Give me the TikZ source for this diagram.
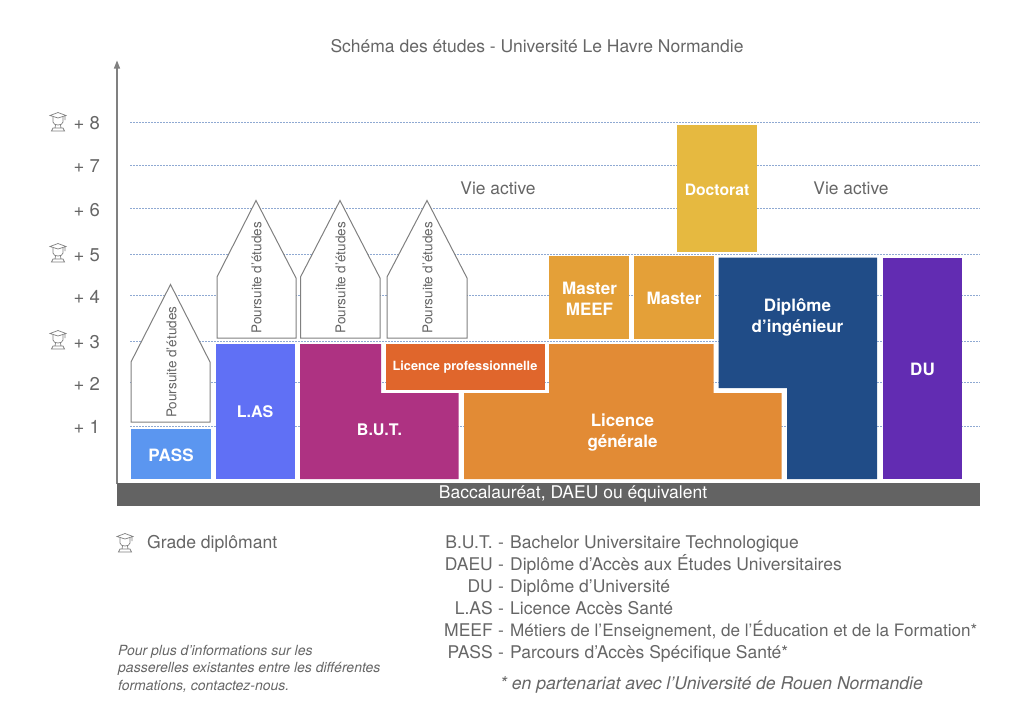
\documentclass[tikz,border=0pt]{standalone}
\usepackage{fontspec}
\setmainfont{TeX Gyre Heros}
\usetikzlibrary{arrows.meta}
\definecolor{txt}{HTML}{666666}
\definecolor{gridc}{HTML}{8FA9D2}
\definecolor{barc}{HTML}{636363}
\definecolor{edgec}{HTML}{808080}
\definecolor{cpass}{HTML}{5B96F0}
\definecolor{clas}{HTML}{6070F5}
\definecolor{cbut}{HTML}{AE3282}
\definecolor{clp}{HTML}{E0662C}
\definecolor{clg}{HTML}{E28B35}
\definecolor{cmas}{HTML}{E4A038}
\definecolor{cdoc}{HTML}{E6B940}
\definecolor{cing}{HTML}{204C87}
\definecolor{cdu}{HTML}{622CB2}
\tikzset{
  blabel/.style={text=white,font=\bfseries\fontsize{17}{21}\selectfont,align=center,inner sep=0},
  house/.style={draw=edgec,line width=1pt,fill=white},
  houselabel/.style={rotate=90,anchor=west,text=txt,font=\fontsize{13.5}{14}\selectfont,inner sep=0},
  gridline/.style={draw=gridc,line width=.7pt,dash pattern=on 1.6pt off 1.4pt},
  tick/.style={text=txt,font=\fontsize{18.5}{20}\selectfont,inner sep=0,anchor=east},
  gray/.style={text=txt,inner sep=0},
  abbr/.style={text=txt,font=\fontsize{17.5}{20}\selectfont,inner sep=0,anchor=base east},
  expl/.style={text=txt,font=\fontsize{17.5}{20}\selectfont,inner sep=0,anchor=base west},
  pics/grad/.style={code={
    \draw[draw=edgec,line width=.7pt,fill=white]
      (-8,-6.5) -- (0,-9.5) -- (8,-6.5) -- (0,-4) -- cycle;
    \draw[draw=edgec,line width=.7pt]
      (-5,-5) -- (-5,0) .. controls (-5,4) and (5,4) .. (5,0) -- (5,-5)
      (-2.5,3) -- (-3,6) (2.5,3) -- (3,6) (-6.5,9) -- (6.5,9) -- (5,6) -- (-5,6) -- cycle
      (7,-6.5) -- (7,-2);
  }}
}
\begin{document}
\begin{tikzpicture}[x=1pt,y=-1pt]
\useasboundingbox (0,0) rectangle (1024,724);
\fill[white] (0,0) rectangle (1024,724);
\node[gray,font=\fontsize{17.5}{20}\selectfont] (title) at (537,46.5) {Schéma des études - Université Le Havre Normandie};
% grid
\foreach \yy/\nm/\lab in {122/8/+ 8,165/7/+ 7,208.5/6/+ 6,254/5/+ 5,295.5/4/+ 4,341/3/+ 3,382.5/2/+ 2,426/1/+ 1}{
  \draw[gridline] (130,\yy) -- (980,\yy);
  \node[tick] (t\nm) at (100,\yy+1.2) {\lab};
}
\pic at (58,122) {grad};
\pic at (58,253) {grad};
\pic at (58,340) {grad};
% axis
\coordinate (axb) at (117,484);
\coordinate (axt) at (117,60.5);
\draw[draw=edgec,line width=1.2pt,-{Triangle[length=8pt,width=6pt]}] (axb) -- (axt);
% base bar
\fill[barc] (117,483) rectangle (980,505.5);
\node[text=white,font=\fontsize{17.5}{20}\selectfont,inner sep=0] (bac) at (573,494.5) {Baccalauréat, DAEU ou équivalent};
% blocks
\fill[cpass] (131,429) rectangle (210.5,479);
\fill[clas] (215.5,344) rectangle (295,479);
\fill[cbut] (300,344) -- (381,344) -- (381,393) -- (458.5,393) -- (458.5,479) -- (300,479) -- cycle;
\fill[clp] (385.5,344) rectangle (544.5,390);
\fill[clg] (549,344) -- (713.5,344) -- (713.5,393) -- (781.5,393) -- (781.5,479) -- (464,479) -- (464,393) -- (549,393) -- cycle;
\fill[cmas] (549,256) rectangle (629,339);
\fill[cmas] (634,256) rectangle (713.5,339);
\fill[cdoc] (677,124.5) rectangle (756.5,252);
\fill[cing] (718.5,257.5) -- (877,257.5) -- (877,479) -- (787,479) -- (787,388) -- (718.5,388) -- cycle;
\fill[cdu] (883,257.5) rectangle (962,479);
\node[blabel] (pass) at (171,455) {PASS};
\node[blabel,font=\bfseries\fontsize{16}{20}\selectfont] (las) at (255,412) {L.AS};
\node[blabel,font=\bfseries\fontsize{16}{20}\selectfont] (but) at (379.5,430) {B.U.T.};
\node[blabel,font=\bfseries\fontsize{12.7}{14}\selectfont] (lp) at (465,367.5) {Licence professionnelle};
\node[blabel] (lg) at (622.5,433) {Licence\\générale};
\node[blabel] (meef) at (589.5,298.5) {Master\\MEEF};
\node[blabel] (mas) at (674,298) {Master};
\node[blabel,font=\bfseries\fontsize{15.7}{18}\selectfont] (doc) at (717,189.5) {Doctorat};
\node[blabel] (ing) at (797.5,317.5) {Diplôme\\d’ingénieur};
\node[blabel] (du) at (922.5,369) {DU};
% houses
\draw[house] (131,422) -- (131,362) -- (170.5,284.5) -- (210,362) -- (210,422) -- cycle;
\draw[house] (217,338) -- (217,277) -- (256,200.5) -- (296,278) -- (296,338) -- cycle;
\draw[house] (300.5,338) -- (300.5,277) -- (340,200.5) -- (380,278) -- (380,338) -- cycle;
\draw[house] (387,338) -- (387,277) -- (427,200.5) -- (467,278) -- (467,338) -- cycle;
\node[houselabel] (h1) at (171.5,418) {Poursuite d'études};
\node[houselabel] (h2) at (256.5,333.5) {Poursuite d'études};
\node[houselabel] (h3) at (340.5,333.5) {Poursuite d'études};
\node[houselabel] (h4) at (427.5,333.5) {Poursuite d'études};
\node[gray,font=\fontsize{17.4}{20}\selectfont] (va1) at (498,188.5) {Vie active};
\node[gray,font=\fontsize{17.4}{20}\selectfont] (va2) at (851,188.5) {Vie active};
% legend
\pic at (125,543) {grad};
\node[gray,anchor=west,font=\fontsize{17.6}{20}\selectfont] (gd) at (147,544) {Grade diplômant};
\node[gray,anchor=north west,align=left,font=\itshape\fontsize{14}{17.5}\selectfont] (note) at (118,645) {Pour plus d'informations sur les\\passerelles existantes entre les différentes\\formations, contactez-nous.};
\foreach \yy/\nm/\ab/\ex in {
  542.3/a/B.U.T./{Bachelor Universitaire Technologique},
  564.3/b/DAEU/{Diplôme d’Accès aux Études Universitaires},
  586.5/c/DU/{Diplôme d’Université},
  608.3/d/L.AS/{Licence Accès Santé},
  630.3/e/MEEF/{\fontsize{17.1}{20}\selectfont Métiers de l’Enseignement, de l’Éducation et de la Formation*},
  652.3/f/PASS/{Parcours d’Accès Spécifique Santé*}}{
  \node[abbr] (ab\nm) at (493,\yy+6) {\ab};
  \node[expl] (dh\nm) at (498,\yy+6) {-};
  \node[expl] (ex\nm) at (510,\yy+6) {\ex};
}
\node[gray,font=\itshape\fontsize{17.6}{20}\selectfont] (fn) at (711.5,684.5) {* en partenariat avec l’Université de Rouen Normandie};
\end{tikzpicture}
\end{document}
